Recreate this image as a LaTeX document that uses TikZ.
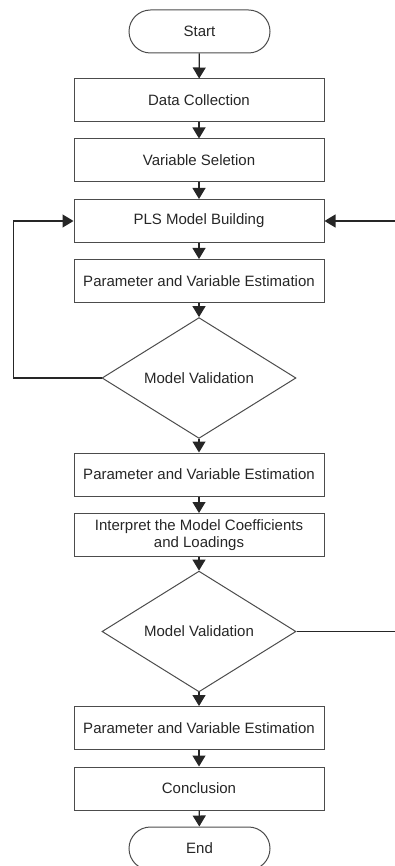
\documentclass[tikz,border=0pt]{standalone}
\usepackage{fontspec}
\setmainfont{Liberation Sans}
\usetikzlibrary{shapes.geometric,arrows.meta}
\begin{document}
\begin{tikzpicture}[x=1pt,y=-1pt,
  every node/.style={font=\fontsize{15}{16.5}\selectfont, text=black!85},
  stepbox/.style={draw=black!70, line width=1pt, minimum width=250pt, minimum height=43pt, inner sep=0pt, align=center},
  termbox/.style={draw=black!70, line width=1pt, minimum width=141pt, minimum height=43pt, rounded corners=21.5pt, inner sep=0pt},
  decbox/.style={draw=black!70, line width=1pt, diamond, minimum width=194pt, minimum height=113pt, inner sep=0pt},
  conn/.style={draw=black!85, line width=1.2pt, -{Triangle[width=13pt,length=11pt]}},
  plain/.style={draw=black!85, line width=1.2pt}]
\useasboundingbox (0,0) rectangle (395,866);
\node[termbox] (start) at (199.5,31.5) {Start};
\node[stepbox] (dc) at (199,100.5) {Data Collection};
\node[stepbox] (vs) at (199,160.5) {Variable Seletion};
\node[stepbox] (pls) at (199,221) {PLS Model Building};
\node[stepbox] (pe1) at (199,281) {Parameter and Variable Estimation};
\node[decbox] (mv1) at (199,378) {Model Validation};
\node[stepbox] (pe2) at (199,474.5) {Parameter and Variable Estimation};
\node[stepbox] (ip) at (199,535) {Interpret the Model Coefficients\\and Loadings};
\node[decbox] (mv2) at (199,631.5) {Model Validation};
\node[stepbox] (pe3) at (199,728) {Parameter and Variable Estimation};
\node[stepbox] (cc) at (199,788.5) {Conclusion};
\node[termbox] (end) at (199.5,848.5) {End};
\coordinate (lx) at (13.5,378);
\coordinate (rin) at (395,221);
\coordinate (rout) at (395,631.5);
\draw[conn] (start) -- (dc);
\draw[conn] (dc) -- (vs);
\draw[conn] (vs) -- (pls);
\draw[conn] (pls) -- (pe1);
\draw[conn] (pe1) -- (mv1);
\draw[conn] (mv1) -- (pe2);
\draw[conn] (pe2) -- (ip);
\draw[conn] (ip) -- (mv2);
\draw[conn] (mv2) -- (pe3);
\draw[conn] (pe3) -- (cc);
\draw[conn] (cc) -- (end);
\draw[conn] (mv1.west) -- (lx) |- (pls.west);
\draw[conn] (rin) -- (pls.east);
\draw[plain] (mv2.east) -- (rout);
\end{tikzpicture}
\end{document}
